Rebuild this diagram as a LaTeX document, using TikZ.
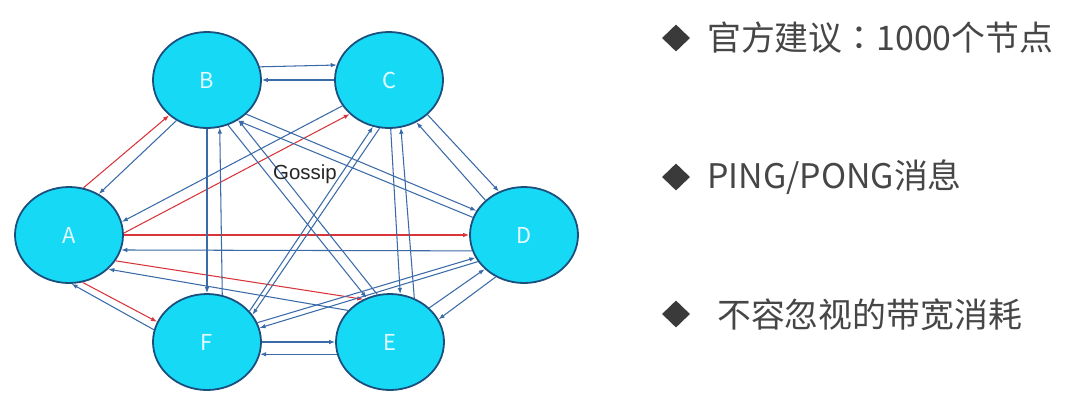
\documentclass[tikz,border=0pt]{standalone}
\usepackage{fontspec}
\setmainfont{Noto Sans CJK SC}
\newfontfamily\gosfont{Liberation Sans}
\newfontfamily\tcfont{Noto Sans CJK TC}
\usetikzlibrary{shapes.geometric,arrows.meta}
\definecolor{nodefill}{HTML}{16D9F6}
\definecolor{nodeline}{HTML}{1A4F7E}
\definecolor{edgeblue}{HTML}{3A6BA8}
\definecolor{edgered}{HTML}{D8343A}
\definecolor{txtgray}{HTML}{464646}
\definecolor{bulgray}{HTML}{3A3A3A}
\definecolor{lbl}{HTML}{E4FAFF}
\begin{document}
\begin{tikzpicture}[x=1bp,y=-1bp,
 nd/.style={ellipse, draw=nodeline, line width=1.8bp, fill=nodefill, minimum width=108bp, minimum height=96bp, inner sep=0pt, text=lbl, font=\fontsize{22}{22}\selectfont},
 bl/.style={draw=edgeblue, line width=1.05bp, -{Latex[length=6bp,width=4.5bp]}},
 rd/.style={bl, draw=edgered},
 bul/.style={diamond, fill=bulgray, minimum width=28bp, minimum height=27bp, inner sep=0pt},
 itm/.style={anchor=base west, text=txtgray, font=\fontsize{34}{34}\selectfont, inner sep=0pt}
]
\fill[white] (0,0) rectangle (1076,411);
\useasboundingbox (0,0) rectangle (1076,411);

\node[nd] (A) at (69,235) {A};
\node[nd] (B) at (207,80) {B};
\node[nd] (C) at (389,80) {C};
\node[nd] (D) at (524,235) {D};
\node[nd] (E) at (390,342) {E};
\node[nd] (F) at (207,342) {F};

% red: from A
\draw[rd] (A.73) -- (B.223);
\draw[rd] (A.2) -- (C.221);
\draw[rd] (A.0) -- (D.180);
\draw[rd] (A.331) -- (E.122);
\draw[rd] (A.286) -- (F.158);

% blue
\draw[bl] (B.233) -- (A.54);
\draw[bl] (C.209.5) -- (A.14);
\draw[bl] (D.197) -- (A.344);
\draw[bl] (E.143) -- (A.319.5);
\draw[bl] (F.167.5) -- (A.273.4);
\draw[bl] (B.14) -- (C.164.5);
\draw[bl] (C.180) -- (B.0);
\draw[bl] (B.270) -- (F.90);
\draw[bl] (F.72) -- (B.285);
\draw[bl] (C.272) -- (E.78);
\draw[bl] (E.61) -- (C.284);
\draw[bl] (C.318) -- (D.120);
\draw[bl] (D.138) -- (C.303);
\draw[bl] (B.319) -- (D.153);
\draw[bl] (D.161.6) -- (B.307);
\draw[bl] (B.295) -- (E.118);
\draw[bl] (E.105.5) -- (B.308.5);
\draw[bl] (F.36) -- (C.251);
\draw[bl] (C.259) -- (F.31);
\draw[bl] (E.41) -- (D.221);
\draw[bl] (D.236.6) -- (E.25.6);
\draw[bl] (F.21) -- (D.205);
\draw[bl] (D.210) -- (F.15);
\draw[bl] (F.0) -- (E.180);
\draw[bl] (E.193) -- (F.347);

\node[anchor=base, inner sep=0pt, text=black!85, font=\gosfont\fontsize{20.5}{20.5}\selectfont] (gossip) at (305,179) {Gossip};

\node[bul] (b1) at (676,38) {};
\node[bul] (b2) at (676,177) {};
\node[bul] (b3) at (676,314) {};
\node[itm] (t1) at (707,50) {官方建议{\tcfont ：}1000个节点};
\node[itm] (t2) at (707,188) {PING/PONG消息};
\node[itm] (t3) at (717,327) {不容忽视的带宽消耗};
\end{tikzpicture}
\end{document}
